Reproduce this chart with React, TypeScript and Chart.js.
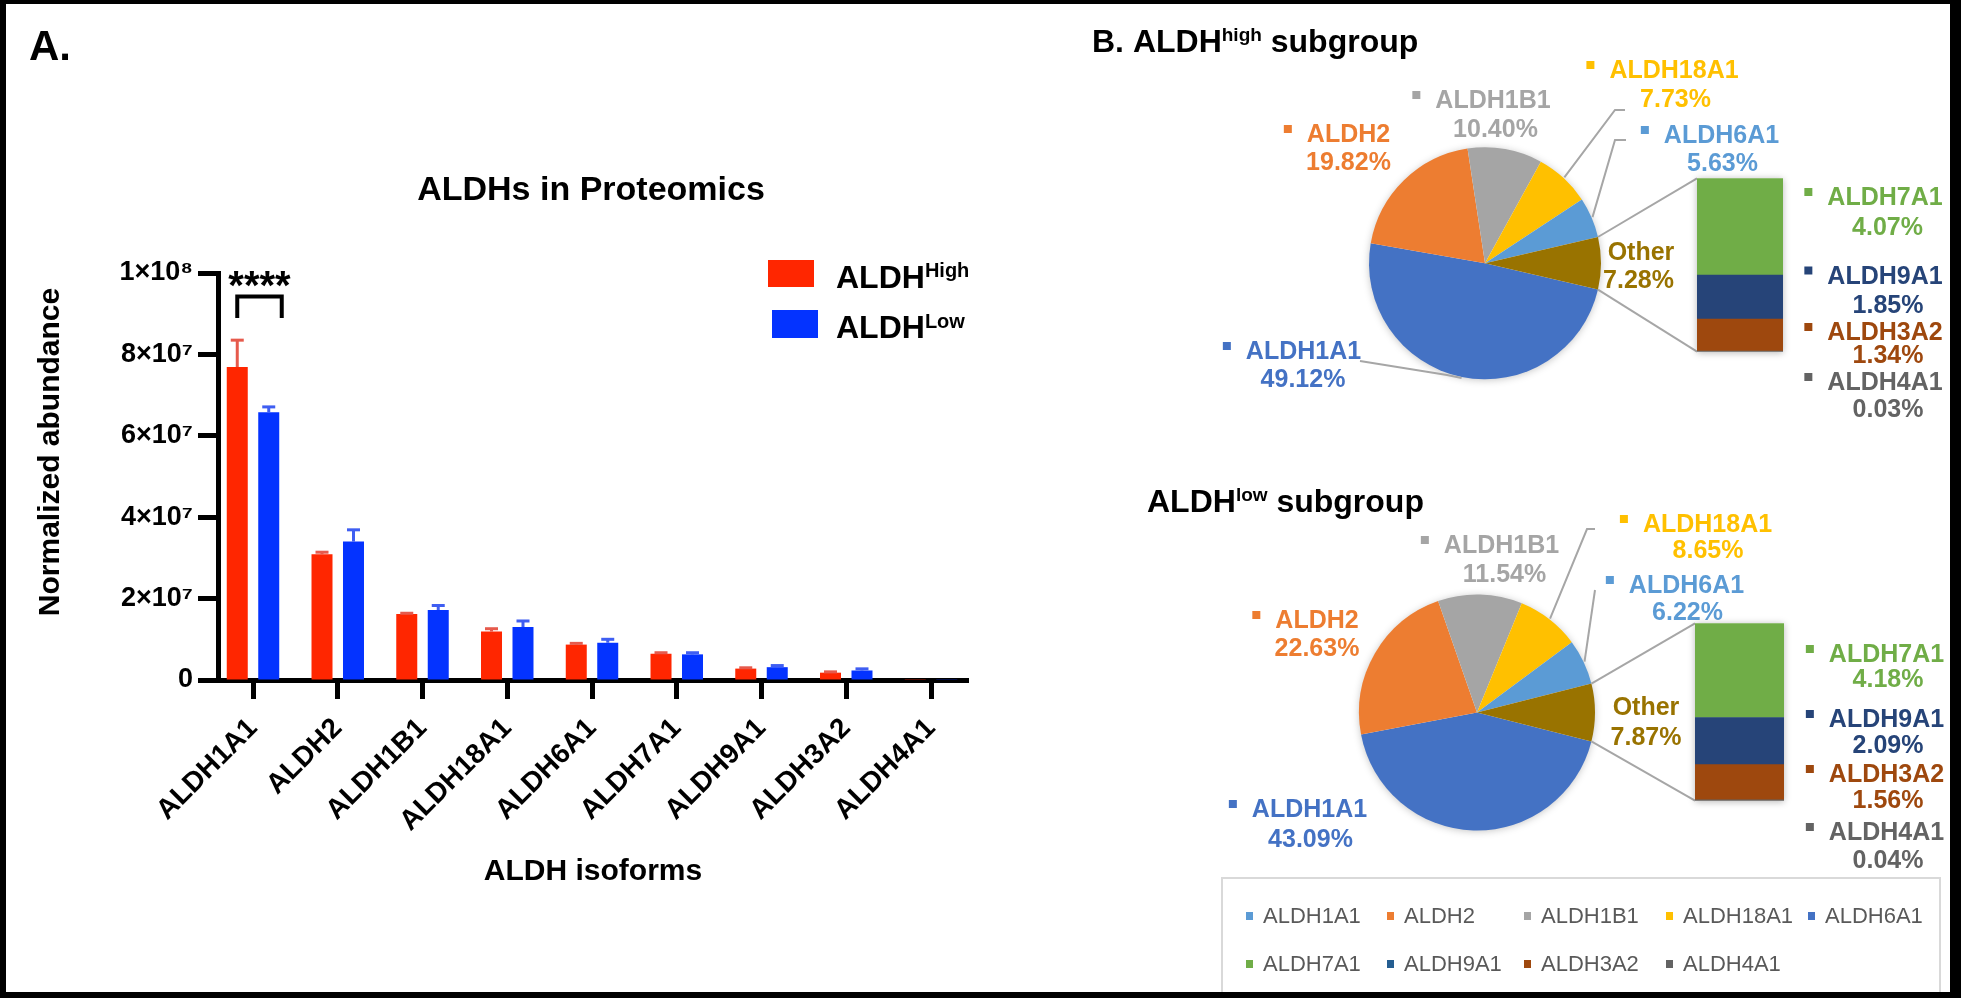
import React, { useEffect, useRef } from 'react';
import { Chart, registerables } from 'chart.js';

Chart.register(...registerables);

const FONT = '"Liberation Sans", Arial, Helvetica, sans-serif';

// ---------- Panel A data ----------
const isoforms = ['ALDH1A1', 'ALDH2', 'ALDH1B1', 'ALDH18A1', 'ALDH6A1', 'ALDH7A1', 'ALDH9A1', 'ALDH3A2', 'ALDH4A1'];
const highMeans = [7.69e7, 3.09e7, 1.62e7, 1.19e7, 0.87e7, 0.645e7, 0.28e7, 0.18e7, 4.7e4];
const highSD = [0.66e7, 0.05e7, 0.02e7, 0.07e7, 0.03e7, 0.025e7, 0.02e7, 0.02e7, 0];
const lowMeans = [6.58e7, 3.4e7, 1.72e7, 1.3e7, 0.915e7, 0.63e7, 0.315e7, 0.234e7, 6.1e4];
const lowSD = [0.13e7, 0.29e7, 0.11e7, 0.15e7, 0.085e7, 0.04e7, 0.04e7, 0.04e7, 0];
const yTickValues = [0, 2e7, 4e7, 6e7, 8e7, 1e8];
const yTickLabels = ['0', '2×10⁷', '4×10⁷', '6×10⁷', '8×10⁷', '1×10⁸'];

// ---------- Panel B data ----------
const pieLabels = ['ALDH1A1', 'ALDH2', 'ALDH1B1', 'ALDH18A1', 'ALDH6A1', 'Other'];
const highPieValues = [49.12, 19.82, 10.4, 7.73, 5.63, 7.28];
const lowPieValues = [43.09, 22.63, 11.54, 8.65, 6.22, 7.87];
const pieColors = ['#4472C4', '#ED7D31', '#A5A5A5', '#FFC000', '#5B9BD5', '#997300'];
const otherLabels = ['ALDH4A1', 'ALDH3A2', 'ALDH9A1', 'ALDH7A1']; // bottom -> top
const highOtherValues = [0.03, 1.34, 1.85, 4.07];
const lowOtherValues = [0.04, 1.56, 2.09, 4.18];
const otherColors = ['#636363', '#9E480E', '#264478', '#70AD47'];
const legendNames = ['ALDH1A1', 'ALDH2', 'ALDH1B1', 'ALDH18A1', 'ALDH6A1', 'ALDH7A1', 'ALDH9A1', 'ALDH3A2', 'ALDH4A1'];
const legendColors = ['#5B9BD5', '#ED7D31', '#A5A5A5', '#FFC000', '#4472C4', '#70AD47', '#255E91', '#9E480E', '#636363'];

// ---------- layout constants ----------
const OX = 1000;
const PIE1 = { cx: 1485, cy: 263.3, r: 116 };
const PIE2 = { cx: 1477, cy: 712.5, r: 118 };
const BAR1 = { x0: 1697, x1: 1783, y0: 178.3, y1: 351.7 };
const BAR2 = { x0: 1695, x1: 1784, y0: 623.3, y1: 800.7 };
const pie1LabelPos = [[1303.5, 359, 1303, 387], [1348.5, 142, 1348.5, 170], [1493, 108, 1495.5, 137], [1674, 78, 1675.5, 107], [1721.5, 143, 1722.5, 171], [1641, 260, 1638.5, 288]];
const bar1LabelPos = [[1885, 390, 1888, 417], [1885, 340, 1888, 363], [1885, 283.5, 1888, 313], [1885, 205, 1887.5, 235]];
const pie2LabelPos = [[1309.5, 817, 1310.5, 847], [1317, 628, 1317, 656], [1501.5, 553, 1504.5, 582], [1707.5, 532, 1708, 558], [1686.5, 593, 1687.5, 620], [1646, 715, 1646, 745]];
const bar2LabelPos = [[1886.5, 840, 1888, 868], [1886.5, 782, 1888, 808], [1886.5, 727, 1888, 753], [1886.5, 662, 1888, 687]];
const pie1Leaders = [{ idx: 3, pts: [[1615, 110], [1625, 110]] }, { idx: 4, pts: [[1615, 140], [1626, 140]] }, { idx: 0, pts: [[1447, 375], [1360, 361]] }];
const pie2Leaders = [{ idx: 3, pts: [[1587, 529], [1595, 529]] }, { idx: 4, pts: [[1595, 590]] }];

type Part = { t: string; size: number; rise?: number };

function drawParts(ctx: CanvasRenderingContext2D, x: number, y: number, parts: Part[], color: string) {
  ctx.fillStyle = color;
  ctx.textAlign = 'left';
  ctx.textBaseline = 'alphabetic';
  let cx = x;
  for (const p of parts) {
    ctx.font = `bold ${p.size}px ${FONT}`;
    ctx.fillText(p.t, cx, y - (p.rise || 0));
    cx += ctx.measureText(p.t).width;
  }
}

function line(ctx: CanvasRenderingContext2D, pts: number[][]) {
  ctx.beginPath();
  ctx.moveTo(pts[0][0], pts[0][1]);
  for (let i = 1; i < pts.length; i++) ctx.lineTo(pts[i][0], pts[i][1]);
  ctx.stroke();
}

function dataLabel(ctx: CanvasRenderingContext2D, name: string, pct: string, color: string, pos: number[], marker: boolean) {
  ctx.font = `bold 25px ${FONT}`;
  ctx.fillStyle = color;
  ctx.textAlign = 'center';
  ctx.textBaseline = 'alphabetic';
  ctx.fillText(name, pos[0] - OX, pos[1]);
  if (marker) {
    const w = ctx.measureText(name).width;
    ctx.fillRect(pos[0] - OX - w / 2 - 23, pos[1] - 17, 8, 8);
  }
  ctx.fillText(pct, pos[2] - OX, pos[3]);
}

// ---------- Panel A plugin ----------
const panelAPlugin = {
  id: 'panelA',
  afterDatasetsDraw(chart: any) {
    const ctx = chart.ctx as CanvasRenderingContext2D;
    const ys = chart.scales.y;
    const sets: [number[], number[], string][] = [[highMeans, highSD, '#E65A4C'], [lowMeans, lowSD, '#3F5EF2']];
    ctx.save();
    sets.forEach(([m, sd, col], di) => {
      const meta = chart.getDatasetMeta(di);
      meta.data.forEach((el: any, i: number) => {
        if (!sd[i]) return;
        const x = el.x;
        const y0 = ys.getPixelForValue(m[i]);
        const y1 = ys.getPixelForValue(m[i] + sd[i]);
        ctx.strokeStyle = col;
        ctx.lineWidth = 3;
        line(ctx, [[x, y0], [x, y1]]);
        line(ctx, [[x - 6.5, y1], [x + 6.5, y1]]);
      });
    });
    ctx.restore();
  },
  afterDraw(chart: any) {
    const ctx = chart.ctx as CanvasRenderingContext2D;
    ctx.save();
    ctx.fillStyle = '#000';
    ctx.textBaseline = 'alphabetic';
    ctx.font = `bold 42px ${FONT}`;
    ctx.textAlign = 'left';
    ctx.fillText('A.', 29, 60);
    ctx.font = `bold 34px ${FONT}`;
    ctx.textAlign = 'center';
    ctx.fillText('ALDHs in Proteomics', 591, 200);
    ctx.font = `bold 30px ${FONT}`;
    ctx.fillText('ALDH isoforms', 593, 880);
    ctx.save();
    ctx.translate(59, 452);
    ctx.rotate(-Math.PI / 2);
    ctx.font = `bold 30px ${FONT}`;
    ctx.textAlign = 'center';
    ctx.fillText('Normalized abundance', 0, 0);
    ctx.restore();
    // legend
    ctx.fillStyle = '#FF2600';
    ctx.fillRect(768, 260, 46, 27);
    ctx.fillStyle = '#0433FF';
    ctx.fillRect(772, 310, 46, 28);
    drawParts(ctx, 836, 288, [{ t: 'ALDH', size: 32 }, { t: 'High', size: 20, rise: 11 }], '#000');
    drawParts(ctx, 836, 338, [{ t: 'ALDH', size: 32 }, { t: 'Low', size: 20, rise: 10 }], '#000');
    // significance
    const red = chart.getDatasetMeta(0).data[0];
    const blue = chart.getDatasetMeta(1).data[0];
    const bx0 = red.x, bx1 = blue.x + 13;
    ctx.strokeStyle = '#000';
    ctx.lineWidth = 4;
    line(ctx, [[bx0, 318], [bx0, 296.5], [bx1, 296.5], [bx1, 318]]);
    ctx.fillStyle = '#000';
    ctx.font = `bold 40px ${FONT}`;
    ctx.textAlign = 'center';
    ctx.fillText('****', (bx0 + bx1) / 2, 299);
    ctx.restore();
  },
};

// ---------- Panel B plugins ----------
function makePiePlugin(values: number[], labelPos: number[][], leaders: any[], bar: any, title: Part[], titleX: number, titleY: number, withLegend: boolean) {
  return {
    id: 'pieDecor',
    beforeDatasetsDraw(chart: any) {
      const a = chart.getDatasetMeta(0).data[0];
      if (!a) return;
      const ctx = chart.ctx as CanvasRenderingContext2D;
      ctx.save();
      ctx.shadowColor = 'rgba(0,0,0,0.28)';
      ctx.shadowBlur = 9;
      ctx.shadowOffsetY = 1;
      ctx.fillStyle = '#fff';
      ctx.beginPath();
      ctx.arc(a.x, a.y, a.outerRadius - 1, 0, Math.PI * 2);
      ctx.fill();
      ctx.restore();
    },
    afterDraw(chart: any) {
      const ctx = chart.ctx as CanvasRenderingContext2D;
      const arcs = chart.getDatasetMeta(0).data;
      ctx.save();
      ctx.strokeStyle = '#A6A6A6';
      ctx.lineWidth = 2;
      const other = arcs[5];
      const p = (a: number, rr: number) => [other.x + rr * Math.cos(a), other.y + rr * Math.sin(a)];
      line(ctx, [p(other.startAngle, other.outerRadius), [bar.x0 - OX, bar.y0]]);
      line(ctx, [p(other.endAngle, other.outerRadius), [bar.x0 - OX, bar.y1]]);
      for (const ld of leaders) {
        const a = arcs[ld.idx];
        const mid = (a.startAngle + a.endAngle) / 2;
        const start = [a.x + (a.outerRadius + 1) * Math.cos(mid), a.y + (a.outerRadius + 1) * Math.sin(mid)];
        line(ctx, [start, ...ld.pts.map((q: number[]) => [q[0] - OX, q[1]])]);
      }
      values.forEach((v, i) => {
        dataLabel(ctx, pieLabels[i], v.toFixed(2) + '%', pieColors[i], labelPos[i], i !== 5);
      });
      drawParts(ctx, titleX - OX, titleY, title, '#000');
      if (withLegend) {
        ctx.strokeStyle = '#D9D9D9';
        ctx.lineWidth = 2;
        ctx.strokeRect(1222 - OX, 878, 718, 130);
        const cols = [1246, 1387, 1524, 1666, 1808];
        const rows = [916, 964];
        ctx.font = `22px ${FONT}`;
        ctx.textAlign = 'left';
        ctx.textBaseline = 'middle';
        legendNames.forEach((n, i) => {
          const cx = cols[i % 5] - OX;
          const cy = rows[Math.floor(i / 5)];
          ctx.fillStyle = legendColors[i];
          ctx.fillRect(cx, cy - 4, 7, 8);
          ctx.fillStyle = '#595959';
          ctx.fillText(n, cx + 17, cy + 1);
        });
      }
      ctx.restore();
    },
  };
}

function makeBarPlugin(values: number[], labelPos: number[][]) {
  return {
    id: 'barDecor',
    beforeDatasetsDraw(chart: any) {
      const ca = chart.chartArea;
      const ctx = chart.ctx as CanvasRenderingContext2D;
      ctx.save();
      ctx.shadowColor = 'rgba(0,0,0,0.28)';
      ctx.shadowBlur = 7;
      ctx.shadowOffsetY = 1;
      ctx.fillStyle = '#fff';
      ctx.fillRect(ca.left, ca.top, ca.right - ca.left, ca.bottom - ca.top);
      ctx.restore();
    },
    afterDraw(chart: any) {
      const ctx = chart.ctx as CanvasRenderingContext2D;
      ctx.save();
      values.forEach((v, i) => {
        dataLabel(ctx, otherLabels[i], v.toFixed(2) + '%', otherColors[i], labelPos[i], true);
      });
      ctx.restore();
    },
  };
}

function pieConfig(values: number[], pie: any, plugin: any): any {
  const cx = pie.cx - OX;
  const half = pie.r + 20;
  return {
    type: 'pie',
    data: {
      labels: pieLabels,
      datasets: [{ data: values, backgroundColor: pieColors, borderWidth: 0, hoverOffset: 0, radius: pie.r, rotation: 90 + values[5] * 1.8 }],
    },
    options: {
      responsive: false,
      animation: false,
      rotation: 90 + values[5] * 1.8,
      radius: pie.r,
      layout: { padding: { left: cx - half, right: 961 - (cx + half), top: pie.cy - half, bottom: 998 - (pie.cy + half) } },
      plugins: { legend: { display: false }, tooltip: { enabled: false } },
    },
    plugins: [plugin],
  };
}

function stackConfig(values: number[], bar: any, plugin: any): any {
  const total = values.reduce((a, b) => a + b, 0);
  return {
    type: 'bar',
    data: {
      labels: ['Other'],
      datasets: otherLabels.map((l, i) => ({
        label: l,
        data: [values[i]],
        backgroundColor: otherColors[i],
        borderWidth: 0,
        categoryPercentage: 1,
        barPercentage: 1,
      })),
    },
    options: {
      responsive: false,
      animation: false,
      layout: { padding: { left: bar.x0 - OX, right: 961 - (bar.x1 - OX), top: bar.y0, bottom: 998 - bar.y1 } },
      scales: {
        x: { stacked: true, display: false },
        y: { stacked: true, display: false, min: 0, max: total },
      },
      plugins: { legend: { display: false }, tooltip: { enabled: false } },
    },
    plugins: [plugin],
  };
}

function barConfig(): any {
  const tickFont = { family: FONT, size: 27, weight: 'bold' };
  return {
    type: 'bar',
    data: {
      datasets: [
        { label: 'ALDH High', data: highMeans.map((v, i) => ({ x: i, y: v })), backgroundColor: '#FF2600', categoryPercentage: 0.743, barPercentage: 0.667 },
        { label: 'ALDH Low', data: lowMeans.map((v, i) => ({ x: i, y: v })), backgroundColor: '#0433FF', categoryPercentage: 0.743, barPercentage: 0.667 },
      ],
    },
    options: {
      responsive: false,
      animation: false,
      layout: { padding: { left: 0, top: 273, right: 32, bottom: 0 } },
      plugins: { legend: { display: false }, tooltip: { enabled: false } },
      scales: {
        x: {
          type: 'linear',
          offset: false,
          min: -35 / 84.75,
          max: 8 + 37 / 84.75,
          z: 1,
          afterBuildTicks: (s: any) => { s.ticks = isoforms.map((_, i) => ({ value: i })); },
          afterFit: (s: any) => { s.height = 998 - 680; },
          grid: { offset: false, drawOnChartArea: false, drawTicks: true, tickLength: 19, tickWidth: 5, tickColor: '#000' },
          border: { display: true, color: '#000', width: 5 },
          ticks: {
            autoSkip: false, minRotation: 45, maxRotation: 45, padding: 13, color: '#000',
            font: { family: FONT, size: 28, weight: 'bold' },
            callback: (v: number) => isoforms[v] ?? '',
          },
        },
        y: {
          min: 0,
          max: 1e8,
          z: 1,
          afterBuildTicks: (s: any) => { s.ticks = yTickValues.map((v) => ({ value: v })); },
          afterFit: (s: any) => { s.width = 218; },
          grid: { drawOnChartArea: false, drawTicks: true, tickLength: 20, tickWidth: 5, tickColor: '#000' },
          border: { display: true, color: '#000', width: 5 },
          ticks: {
            padding: 5, color: '#000', font: tickFont,
            callback: (v: number) => yTickLabels[yTickValues.indexOf(v)] ?? '',
          },
        },
      },
    },
    plugins: [panelAPlugin],
  };
}

export default function App() {
  const aRef = useRef<HTMLCanvasElement>(null);
  const p1Ref = useRef<HTMLCanvasElement>(null);
  const b1Ref = useRef<HTMLCanvasElement>(null);
  const p2Ref = useRef<HTMLCanvasElement>(null);
  const b2Ref = useRef<HTMLCanvasElement>(null);

  useEffect(() => {
    document.body.style.margin = '0';
    document.body.style.overflow = 'hidden';
    const charts: Chart[] = [];
    charts.push(new Chart(aRef.current!, barConfig()));
    charts.push(new Chart(p1Ref.current!, pieConfig(highPieValues, PIE1,
      makePiePlugin(highPieValues, pie1LabelPos, pie1Leaders, BAR1,
        [{ t: 'B. ALDH', size: 32 }, { t: 'high', size: 19, rise: 11 }, { t: ' subgroup', size: 32 }], 1092, 52, false))));
    charts.push(new Chart(b1Ref.current!, stackConfig(highOtherValues, BAR1, makeBarPlugin(highOtherValues, bar1LabelPos))));
    charts.push(new Chart(p2Ref.current!, pieConfig(lowPieValues, PIE2,
      makePiePlugin(lowPieValues, pie2LabelPos, pie2Leaders, BAR2,
        [{ t: 'ALDH', size: 32 }, { t: 'low', size: 19, rise: 11 }, { t: ' subgroup', size: 32 }], 1147, 512, true))));
    charts.push(new Chart(b2Ref.current!, stackConfig(lowOtherValues, BAR2, makeBarPlugin(lowOtherValues, bar2LabelPos))));
    return () => charts.forEach((c) => c.destroy());
  }, []);

  const cv = (left: number): React.CSSProperties => ({ position: 'absolute', left, top: 0 });
  return (
    <div style={{ position: 'absolute', left: 0, top: 0, width: 1961, height: 998, background: '#fff', overflow: 'hidden' }}>
      <canvas ref={aRef} width={1000} height={998} style={cv(0)} />
      <canvas ref={p1Ref} width={961} height={998} style={cv(OX)} />
      <canvas ref={b1Ref} width={961} height={998} style={cv(OX)} />
      <canvas ref={p2Ref} width={961} height={998} style={cv(OX)} />
      <canvas ref={b2Ref} width={961} height={998} style={cv(OX)} />
      <div style={{ position: 'absolute', left: 0, top: 0, width: 1961, height: 998, boxSizing: 'border-box', border: '0 solid #000', borderWidth: '4px 11px 6px 6px', pointerEvents: 'none' }} />
    </div>
  );
}
